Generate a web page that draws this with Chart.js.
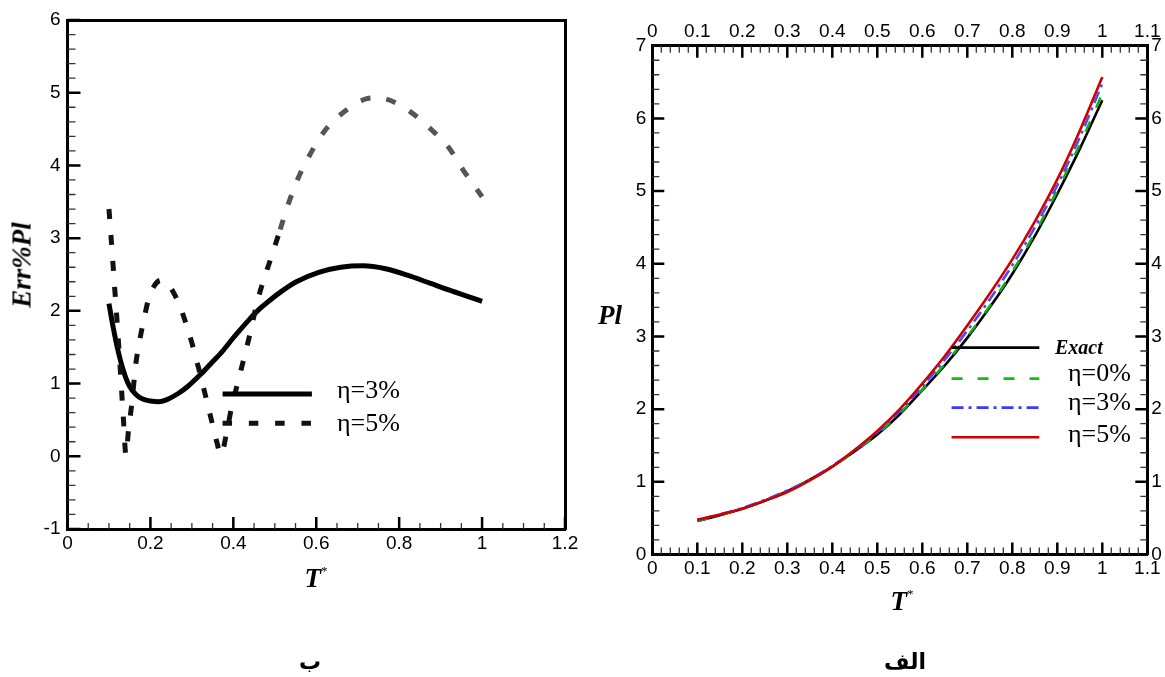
<!DOCTYPE html>
<html><head><meta charset="utf-8">
<script src="https://cdn.jsdelivr.net/npm/chart.js@4.4.1/dist/chart.umd.min.js"></script>
<style>
html,body{margin:0;padding:0;background:#fff;}
#wrap{position:relative;width:1165px;height:677px;overflow:hidden;background:#fff;}
canvas{position:absolute;}
.lbl{position:absolute;transform:translate(-50%,-50%);white-space:nowrap;line-height:1;color:#000;}
.ttl{font-family:"Liberation Serif","Times New Roman",serif;font-weight:bold;font-style:italic;font-size:27px;}
.leg{position:absolute;transform:translate(0,-50%);white-space:nowrap;line-height:1;color:#000;font-family:"Liberation Serif","Times New Roman",serif;font-size:26px;}
.ar{font-family:"DejaVu Sans",sans-serif;font-weight:bold;font-size:22px;}
.star{font-family:"Liberation Serif",serif;font-weight:normal;font-style:normal;font-size:13px;position:relative;top:-12px;}
</style></head>
<body><div id="wrap">
<canvas id="c1" width="600" height="600" style="left:0;top:0;width:600px;height:600px"></canvas>
<canvas id="c2" width="575" height="600" style="left:590px;top:0;width:575px;height:600px"></canvas>

<div class="lbl ttl" style="left:22px;top:265px;transform:translate(-50%,-50%) rotate(-90deg);">Err%Pl</div>
<div class="lbl ttl" style="left:316px;top:578px;">T<span class="star">*</span></div>
<div class="leg" style="left:337px;top:390px;">η=3%</div>
<div class="leg" style="left:337px;top:423px;">η=5%</div>

<div class="lbl ttl" style="left:610px;top:315px;">Pl</div>
<div class="lbl ttl" style="left:902px;top:601px;">T<span class="star">*</span></div>
<div class="leg" style="left:1055px;top:347px;font-weight:bold;font-style:italic;font-size:20px;">Exact</div>
<div class="leg" style="left:1068px;top:373px;">η=0%</div>
<div class="leg" style="left:1068px;top:402px;">η=3%</div>
<div class="leg" style="left:1068px;top:434px;">η=5%</div>

<div class="lbl ar" dir="rtl" style="left:310px;top:662px;">ب</div>
<div class="lbl ar" dir="rtl" style="left:905px;top:662px;">الف</div>
</div>
<script>
// ---------- Left chart (ب): Err%Pl vs T* ----------
const errXTicks = [0, 0.2, 0.4, 0.6, 0.8, 1, 1.2];
const errYTicks = [-1, 0, 1, 2, 3, 4, 5, 6];

const errEta3X = [0.100, 0.110, 0.120, 0.130, 0.140, 0.150, 0.165, 0.180, 0.200, 0.220, 0.240, 0.266, 0.290, 0.320, 0.345, 0.373, 0.400, 0.418, 0.440, 0.462, 0.485, 0.507, 0.552, 0.606, 0.659, 0.713, 0.767, 0.820, 0.874, 0.928, 0.965, 1.000];
const errEta3Y = [2.10, 1.78, 1.50, 1.27, 1.09, 0.96, 0.85, 0.79, 0.76, 0.75, 0.78, 0.86, 0.96, 1.12, 1.27, 1.44, 1.63, 1.75, 1.89, 2.02, 2.13, 2.23, 2.40, 2.53, 2.60, 2.62, 2.58, 2.49, 2.38, 2.27, 2.20, 2.13];

const errEta5X = [0.100, 0.105, 0.110, 0.115, 0.120, 0.125, 0.130, 0.135, 0.141, 0.147, 0.155, 0.165, 0.175, 0.185, 0.195, 0.210, 0.225, 0.240, 0.255, 0.270, 0.285, 0.300, 0.315, 0.330, 0.345, 0.360, 0.370, 0.384, 0.395, 0.411, 0.427, 0.443, 0.456, 0.474, 0.494, 0.513, 0.532, 0.556, 0.583, 0.617, 0.659, 0.717, 0.745, 0.776, 0.829, 0.878, 0.919, 0.954, 1.000];
const errEta5Y = [3.40, 3.02, 2.62, 2.22, 1.82, 1.40, 0.95, 0.50, 0.02, 0.35, 0.72, 1.28, 1.62, 1.90, 2.15, 2.35, 2.42, 2.38, 2.26, 2.08, 1.84, 1.56, 1.24, 0.90, 0.55, 0.20, 0.02, 0.33, 0.65, 1.02, 1.38, 1.75, 2.09, 2.44, 2.78, 3.12, 3.46, 3.82, 4.13, 4.45, 4.70, 4.91, 4.93, 4.90, 4.73, 4.49, 4.25, 3.94, 3.57];

// ---------- Right chart (الف): Pl vs T* ----------
const plXTicks = [0, 0.1, 0.2, 0.3, 0.4, 0.5, 0.6, 0.7, 0.8, 0.9, 1, 1.1];
const plYTicks = [0, 1, 2, 3, 4, 5, 6, 7];

const plT     = [0.10, 0.15, 0.20, 0.25, 0.30, 0.35, 0.40, 0.45, 0.50, 0.55, 0.60, 0.65, 0.70, 0.75, 0.80, 0.85, 0.90, 0.95, 1.00];
const plExact = [0.46, 0.54, 0.63, 0.74, 0.87, 1.03, 1.21, 1.42, 1.65, 1.93, 2.26, 2.60, 2.98, 3.40, 3.86, 4.38, 4.96, 5.58, 6.25];
const plEta0  = [0.46, 0.54, 0.63, 0.74, 0.87, 1.03, 1.21, 1.42, 1.66, 1.94, 2.27, 2.62, 3.00, 3.42, 3.89, 4.42, 5.01, 5.64, 6.34];
const plEta3  = [0.47, 0.55, 0.64, 0.75, 0.88, 1.03, 1.22, 1.43, 1.68, 1.97, 2.31, 2.68, 3.08, 3.51, 3.98, 4.50, 5.08, 5.74, 6.48];
const plEta5  = [0.48, 0.55, 0.63, 0.74, 0.86, 1.02, 1.21, 1.44, 1.70, 2.00, 2.35, 2.73, 3.15, 3.59, 4.06, 4.58, 5.16, 5.83, 6.57];

const pts = (xs, ys) => xs.map((x, i) => ({x: x, y: ys[i]}));

Chart.defaults.font.family = '"Liberation Sans", Arial, sans-serif';
Chart.defaults.font.size = 19;
Chart.defaults.color = '#000';

const inwardTicks = {
  id: 'inwardTicks',
  afterDatasetsDraw(chart, args, opts) {
    const ctx = chart.ctx, a = chart.chartArea;
    ctx.save();
    ctx.lineCap = 'butt';
    (opts.sides || []).forEach(t => {
      const sc = chart.scales[t.scale];
      [[t.minor, t.minorLen, t.minorWidth, t.minorColor || '#000'], [t.major, t.majorLen, t.majorWidth, '#000']].forEach(([step, len, lw, col]) => {
        if (!step) return;
        const n = Math.round((sc.max - sc.min) / step);
        ctx.lineWidth = lw; ctx.strokeStyle = col;
        ctx.beginPath();
        for (let i = 0; i <= n; i++) {
          const p = sc.getPixelForValue(sc.min + i * step);
          if (t.side === 'left') { ctx.moveTo(a.left, p); ctx.lineTo(a.left + len, p); }
          else if (t.side === 'right') { ctx.moveTo(a.right, p); ctx.lineTo(a.right - len, p); }
          else if (t.side === 'bottom') { ctx.moveTo(p, a.bottom); ctx.lineTo(p, a.bottom - len); }
          else { ctx.moveTo(p, a.top); ctx.lineTo(p, a.top + len); }
        }
        ctx.stroke();
      });
    });
    ctx.restore();
  }
};

const legendLines = {
  id: 'legendLines',
  afterDatasetsDraw(chart, args, opts) {
    const ctx = chart.ctx, xs = chart.scales.x, ys = chart.scales.y;
    ctx.save();
    (opts.items || []).forEach(it => {
      ctx.beginPath();
      ctx.strokeStyle = it.color; ctx.lineWidth = it.width; ctx.lineCap = 'butt';
      ctx.setLineDash(it.dash || []);
      const y = ys.getPixelForValue(it.y);
      ctx.moveTo(xs.getPixelForValue(it.x0), y);
      ctx.lineTo(xs.getPixelForValue(it.x1), y);
      ctx.stroke();
    });
    ctx.restore();
  }
};

function axis(pos, ticksArr, min, max, opts) {
  return Object.assign({
    type: 'linear', position: pos, min: min, max: max,
    grid: {display: false, drawTicks: false},
    border: {display: true, width: 3, color: '#000'},
    afterBuildTicks: s => { s.ticks = ticksArr.map(v => ({value: v})); }
  }, opts);
}
const tk = (pad) => ({autoSkip: false, maxRotation: 0, minRotation: 0, padding: pad, callback: v => String(v)});

// Left chart
new Chart(document.getElementById('c1'), {
  type: 'line',
  data: {datasets: [
    {label: 'η=5%', data: pts(errEta5X, errEta5Y), borderColor: '#111', borderWidth: 5, borderDash: [10, 16], borderCapStyle: 'butt',
     pointRadius: 0, cubicInterpolationMode: 'monotone', order: 0,
     segment: {borderColor: c => c.p0.parsed.x >= 0.5 ? '#555' : '#111'}},
    {label: 'η=3%', data: pts(errEta3X, errEta3Y), borderColor: '#000', borderWidth: 5, pointRadius: 0, cubicInterpolationMode: 'monotone', order: 1}
  ]},
  options: {
    responsive: false, animation: false, devicePixelRatio: 1,
    layout: {padding: {top: 20, left: 0, right: 0, bottom: 0}},
    plugins: {
      legend: {display: false}, tooltip: {enabled: false},
      inwardTicks: {sides: [
        {scale: 'y', side: 'left', major: 1, majorLen: 13, majorWidth: 2.5, minor: 0.2, minorLen: 8, minorWidth: 1.3, minorColor: '#333'},
        {scale: 'x', side: 'bottom', major: 0.2, majorLen: 12, majorWidth: 2.5, minor: 0.05, minorLen: 6, minorWidth: 1.3, minorColor: '#333'}
      ]},
      legendLines: {items: [
        {x0: 0.374, x1: 0.5895, y: 0.857, color: '#000', width: 5},
        {x0: 0.374, x1: 0.5895, y: 0.454, color: '#111', width: 5, dash: [9.5, 16.8]}
      ]}
    },
    scales: {
      x: axis('bottom', errXTicks, 0, 1.2, {afterFit: s => { s.height = 71; }, ticks: tk(3)}),
      y: axis('left', errYTicks, -1, 6, {afterFit: s => { s.width = 67.5; }, ticks: tk(7)}),
      x2: axis('top', errXTicks, 0, 1.2, {afterFit: s => { s.height = 0; }, ticks: {display: false}}),
      y2: axis('right', errYTicks, -1, 6, {afterFit: s => { s.width = 35; }, ticks: {display: false}})
    }
  },
  plugins: [inwardTicks, legendLines]
});

// Right chart
const lineBase = {pointRadius: 0, borderWidth: 2.6, cubicInterpolationMode: 'monotone', borderCapStyle: 'butt'};
new Chart(document.getElementById('c2'), {
  type: 'line',
  data: {datasets: [
    Object.assign({label: 'Exact', data: pts(plT, plExact), borderColor: '#000', order: 3}, lineBase),
    Object.assign({label: 'η=0%', data: pts(plT, plEta0), borderColor: '#10b010', borderDash: [11, 15], order: 2}, lineBase),
    Object.assign({label: 'η=3%', data: pts(plT, plEta3), borderColor: '#4a4aff', borderDash: [12, 5, 3, 5], order: 1}, lineBase),
    Object.assign({label: 'η=5%', data: pts(plT, plEta5), borderColor: '#d00000', order: 0}, lineBase)
  ]},
  options: {
    responsive: false, animation: false, devicePixelRatio: 1,
    layout: {padding: 0},
    plugins: {
      legend: {display: false}, tooltip: {enabled: false},
      inwardTicks: {sides: [
        {scale: 'y', side: 'left', major: 1, majorLen: 12, majorWidth: 2.5, minor: 0.2, minorLen: 7, minorWidth: 1.3, minorColor: '#333'},
        {scale: 'y', side: 'right', major: 1, majorLen: 12, majorWidth: 2.5, minor: 0.2, minorLen: 7, minorWidth: 1.3, minorColor: '#333'},
        {scale: 'x', side: 'bottom', major: 0.1, majorLen: 12, majorWidth: 2.5, minor: 0.02, minorLen: 7, minorWidth: 1.3, minorColor: '#333'},
        {scale: 'x', side: 'top', major: 0.1, majorLen: 12, majorWidth: 2.5, minor: 0.02, minorLen: 7, minorWidth: 1.3, minorColor: '#333'}
      ]},
      legendLines: {items: [
        {x0: 0.665, x1: 0.86, y: 2.846, color: '#000', width: 2.6},
        {x0: 0.665, x1: 0.86, y: 2.42, color: '#10c010', width: 2.6, dash: [11, 15]},
        {x0: 0.665, x1: 0.86, y: 2.02, color: '#3a3aff', width: 2.6, dash: [12, 5, 3, 5]},
        {x0: 0.665, x1: 0.86, y: 1.613, color: '#d00000', width: 2.6}
      ]}
    },
    scales: {
      x: axis('bottom', plXTicks, 0, 1.1, {afterFit: s => { s.height = 45.5; }, ticks: tk(3)}),
      x2: axis('top', plXTicks, 0, 1.1, {afterFit: s => { s.height = 45.7; }, ticks: tk(3)}),
      y: axis('left', plYTicks, 0, 7, {afterFit: s => { s.width = 62.3; }, ticks: tk(6)}),
      y2: axis('right', plYTicks, 0, 7, {afterFit: s => { s.width = 17.7; }, ticks: tk(4)})
    }
  },
  plugins: [inwardTicks, legendLines]
});
</script>
</body></html>
